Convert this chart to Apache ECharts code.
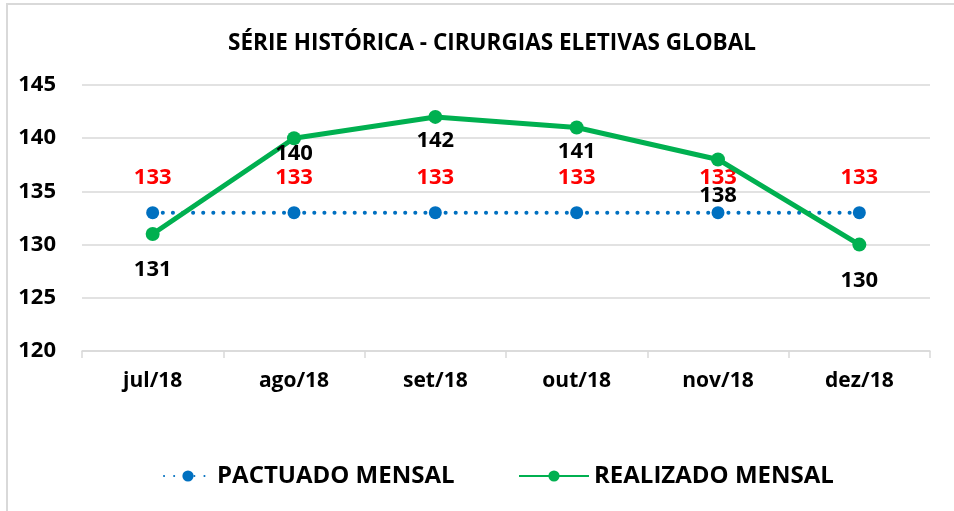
<!DOCTYPE html>
<html>
<head>
<meta charset="utf-8">
<script src="https://cdn.jsdelivr.net/npm/echarts@6/dist/echarts.min.js"></script>
<style>
  html, body { margin: 0; padding: 0; background: #fff; }
  #chart { width: 954px; height: 511px; }
</style>
</head>
<body>
<div id="chart"></div>
<script>
const categories = ["jul/18", "ago/18", "set/18", "out/18", "nov/18", "dez/18"];
const pactuado = [133, 133, 133, 133, 133, 133];
const realizado = [131, 140, 142, 141, 138, 130];
const yTicks = [120, 125, 130, 135, 140, 145];

// vertical nudges for the "realizado" labels, as placed in the original
const realizadoLabelDy = [18, -2, 6, 6, 18, 18];

const font = "Open Sans";
const chart = echarts.init(document.getElementById("chart"));

const legendText = { fontFamily: font, fontWeight: "bold", fontSize: 24, color: "#000" };

const option = {
  animation: false,
  textStyle: { fontFamily: font },
  graphic: [
    {
      type: "rect",
      shape: { x: 7, y: 4, width: 1000, height: 600 },
      style: { fill: "none", stroke: "#d9d9d9", lineWidth: 2 },
      silent: true,
    },
  ],
  title: {
    text: "SÉRIE HISTÓRICA - CIRURGIAS ELETIVAS GLOBAL",
    left: 487,
    textAlign: "center",
    top: 27,
    textStyle: { fontFamily: font, fontWeight: "bold", fontSize: 22.5, color: "#000" },
  },
  legend: [
    {
      bottom: 18,
      left: 158,
      itemWidth: 48,
      itemHeight: 14,
      itemGap: 0,
      textStyle: legendText,
      data: ["PACTUADO MENSAL"],
    },
    {
      bottom: 18,
      left: 513,
      itemWidth: 70,
      itemHeight: 14,
      itemGap: 0,
      textStyle: legendText,
      data: ["REALIZADO MENSAL"],
    },
  ],
  grid: { left: 82, right: 24, top: 85, bottom: 160 },
  xAxis: {
    type: "category",
    data: categories,
    boundaryGap: true,
    axisLine: { lineStyle: { color: "#d9d9d9", width: 1.5 } },
    axisTick: { show: true, length: 7, lineStyle: { color: "#d9d9d9", width: 1.5 } },
    axisLabel: { margin: 20, fontFamily: font, fontWeight: "bold", fontSize: 21, color: "#000" },
  },
  yAxis: {
    type: "value",
    min: yTicks[0],
    max: yTicks[yTicks.length - 1],
    interval: 5,
    axisLine: { show: false },
    axisTick: { show: false },
    axisLabel: { margin: 26, fontFamily: font, fontWeight: "bold", fontSize: 22, color: "#000" },
    splitLine: { lineStyle: { color: "#d9d9d9", width: 1.5 } },
  },
  series: [
    {
      name: "PACTUADO MENSAL",
      type: "line",
      data: pactuado,
      symbol: "circle",
      symbolSize: 13,
      itemStyle: { color: "#0070C0" },
      lineStyle: { color: "#0070C0", width: 4, type: [0.1, 10], cap: "round" },
      label: {
        show: true,
        position: "top",
        distance: 17,
        fontFamily: font,
        fontWeight: "bold",
        fontSize: 22,
        color: "#FF0000",
      },
      z: 2,
    },
    {
      name: "REALIZADO MENSAL",
      type: "line",
      data: realizado.map((v, i) => ({
        value: v,
        label: { offset: [0, realizadoLabelDy[i]] },
      })),
      symbol: "circle",
      symbolSize: 14,
      itemStyle: { color: "#00B050" },
      lineStyle: { color: "#00B050", width: 5 },
      label: {
        show: true,
        position: "bottom",
        distance: 0,
        fontFamily: font,
        fontWeight: "bold",
        fontSize: 22,
        color: "#000",
      },
      z: 3,
    },
  ],
};

chart.setOption(option);
</script>
</body>
</html>
